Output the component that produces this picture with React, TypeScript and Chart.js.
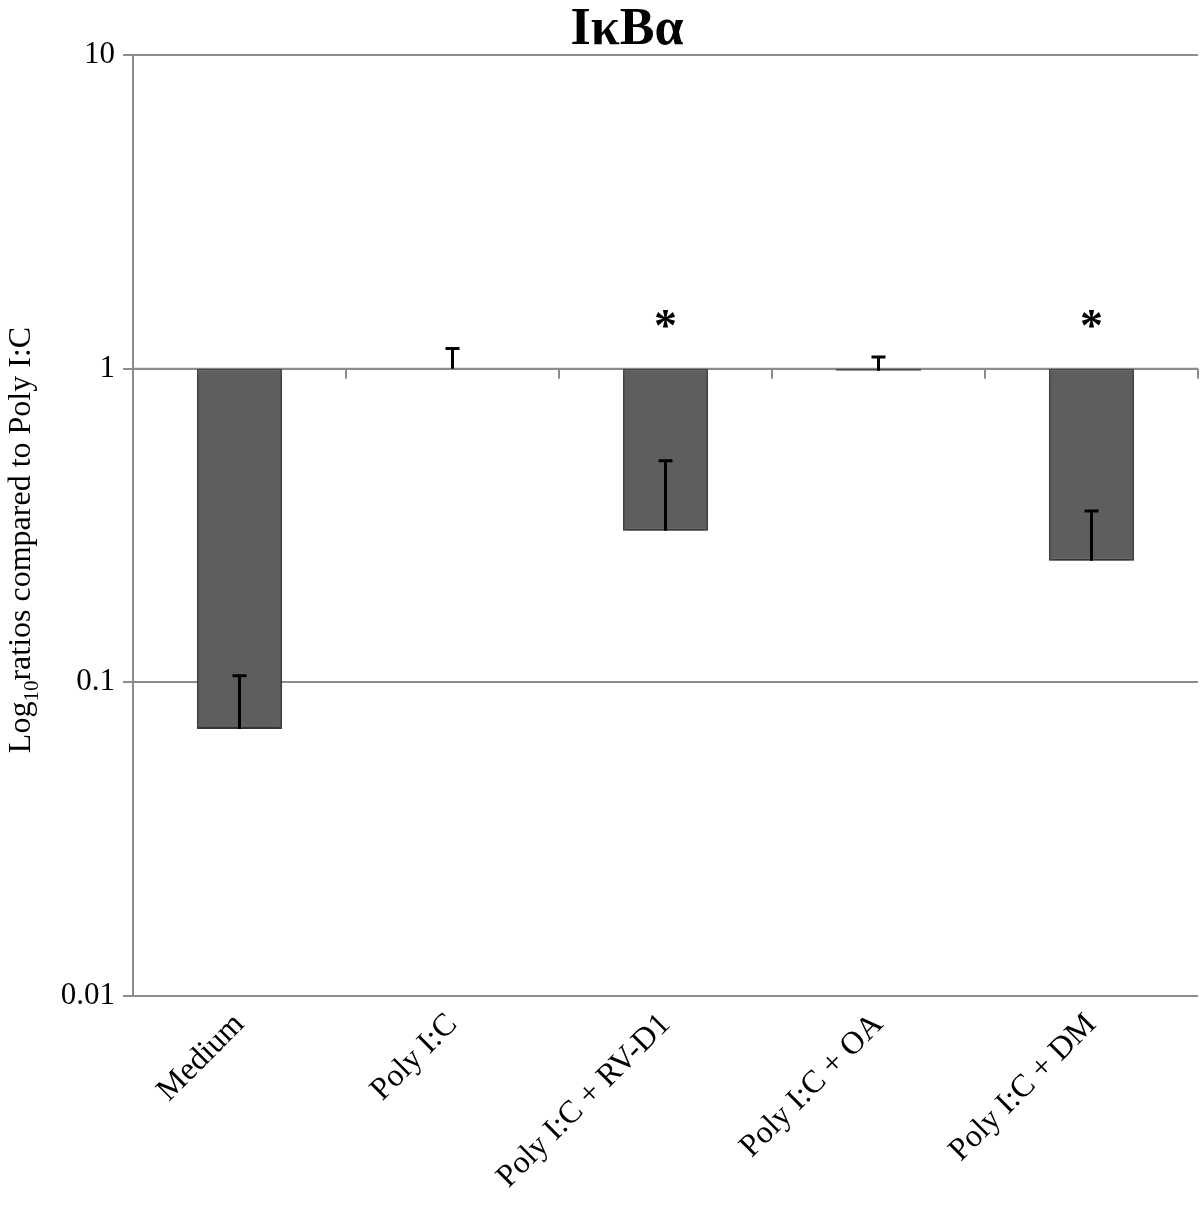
import React, { useEffect, useRef } from "react";
import { Chart, registerables } from "chart.js";

Chart.register(...registerables);

const categories = ["Medium", "Poly I:C", "Poly I:C + RV-D1", "Poly I:C + OA", "Poly I:C + DM"];
const values = [0.071, 1.0, 0.304, 0.985, 0.244];
const errorTops = [0.105, 1.16, 0.509, 1.09, 0.352];
const significant = [false, false, true, false, true];
const yTicks = [0.01, 0.1, 1, 10];
const baseline = 1;

const SERIF = "'Liberation Serif', 'Times New Roman', serif";

const overlayPlugin = {
  id: "overlay",
  beforeDatasetsDraw(chart: any) {
    const { ctx, chartArea, scales } = chart;
    const x = scales.x;
    const y = scales.y;
    const y1 = y.getPixelForValue(baseline);
    ctx.save();
    ctx.strokeStyle = "#8c8c8c";
    ctx.lineWidth = 2;
    ctx.beginPath();
    ctx.moveTo(chartArea.left, y1);
    ctx.lineTo(chartArea.right, y1);
    for (let i = 1; i < categories.length; i++) {
      const bx = (x.getPixelForValue(i - 1) + x.getPixelForValue(i)) / 2;
      ctx.moveTo(bx, y1);
      ctx.lineTo(bx, y1 + 10);
    }
    ctx.moveTo(chartArea.right, y1);
    ctx.lineTo(chartArea.right, y1 + 10);
    ctx.stroke();
    ctx.restore();
  },
  beforeDatasetDraw(chart: any) {
    const ctx = chart.ctx;
    ctx.save();
    ctx.shadowColor = "rgba(0,0,0,0.35)";
    ctx.shadowBlur = 6;
    ctx.shadowOffsetX = 0;
    ctx.shadowOffsetY = 4;
  },
  afterDatasetDraw(chart: any) {
    chart.ctx.restore();
  },
  afterDatasetsDraw(chart: any) {
    const { ctx, scales } = chart;
    const x = scales.x;
    const y = scales.y;
    ctx.save();
    ctx.strokeStyle = "#000";
    ctx.lineWidth = 3;
    values.forEach((v, i) => {
      const cx = x.getPixelForValue(i);
      const yb = y.getPixelForValue(v);
      const yt = y.getPixelForValue(errorTops[i]);
      ctx.beginPath();
      ctx.moveTo(cx, yb);
      ctx.lineTo(cx, yt);
      ctx.moveTo(cx - 7, yt);
      ctx.lineTo(cx + 7, yt);
      ctx.stroke();
    });
    ctx.fillStyle = "#000";
    ctx.font = `bold 46px ${SERIF}`;
    ctx.textAlign = "center";
    ctx.textBaseline = "middle";
    significant.forEach((s, i) => {
      if (!s) return;
      const cx = x.getPixelForValue(i);
      ctx.fillText("*", cx, y.getPixelForValue(baseline) - 40);
    });
    ctx.font = `bold 52px ${SERIF}`;
    ctx.textBaseline = "alphabetic";
    ctx.fillText("I\u03baB\u03b1", 627, 44);
    ctx.translate(30, 540);
    ctx.rotate(-Math.PI / 2);
    const mainFont = `32px ${SERIF}`;
    const subFont = `21px ${SERIF}`;
    const p1 = "Log";
    const p2 = "10";
    const p3 = "ratios compared to Poly I:C";
    ctx.font = mainFont;
    const w1 = ctx.measureText(p1).width;
    const w3 = ctx.measureText(p3).width;
    ctx.font = subFont;
    const w2 = ctx.measureText(p2).width;
    const total = w1 + w2 + w3;
    let sx = -total / 2;
    ctx.textAlign = "left";
    ctx.font = mainFont;
    ctx.fillText(p1, sx, 0);
    sx += w1;
    ctx.font = subFont;
    ctx.fillText(p2, sx, 8);
    sx += w2;
    ctx.font = mainFont;
    ctx.fillText(p3, sx, 0);
    ctx.restore();
  },
};

export default function App() {
  const ref = useRef<HTMLCanvasElement | null>(null);
  useEffect(() => {
    if (!ref.current) return;
    const chart = new Chart(ref.current, {
      type: "bar",
      data: {
        labels: categories,
        datasets: [
          {
            data: values.map((v) => [v, baseline]) as any,
            backgroundColor: "#5e5e5e",
            borderColor: "#4a4a4a",
            borderWidth: 2,
            borderSkipped: false,
            categoryPercentage: 0.8,
            barPercentage: 0.5,
          },
        ],
      },
      options: {
        responsive: false,
        animation: false,
        devicePixelRatio: 1,
        layout: { padding: { top: 55, right: 2, left: 0, bottom: 0 } },
        plugins: {
          legend: { display: false },
          tooltip: { enabled: false },
          title: { display: false },
        },
        scales: {
          x: {
            grid: { display: false },
            border: { display: false },
            ticks: {
              color: "#000",
              font: { family: SERIF, size: 32 },
              minRotation: 45,
              maxRotation: 45,
              padding: 2,
            },
            afterFit(scale: any) {
              scale.height = 212;
            },
          },
          y: {
            type: "logarithmic",
            min: 0.01,
            max: 10,
            afterBuildTicks(scale: any) {
              scale.ticks = yTicks.map((v) => ({ value: v }));
            },
            afterFit(scale: any) {
              scale.width = 133;
            },
            grid: {
              color: "#8c8c8c",
              lineWidth: 2,
              drawTicks: true,
              tickLength: 10,
            },
            border: { display: true, color: "#8c8c8c", width: 2 },
            ticks: {
              color: "#000",
              font: { family: SERIF, size: 31 },
              padding: 8,
              autoSkip: false,
              callback: (v: any) => String(Number(v)),
            },
          },
        },
      },
      plugins: [overlayPlugin],
    });
    return () => chart.destroy();
  }, []);
  return (
    <div style={{ position: "fixed", left: 0, top: 0, width: 1200, height: 1208, background: "#fff" }}>
      <canvas ref={ref} width={1200} height={1208} style={{ width: 1200, height: 1208 }} />
    </div>
  );
}
